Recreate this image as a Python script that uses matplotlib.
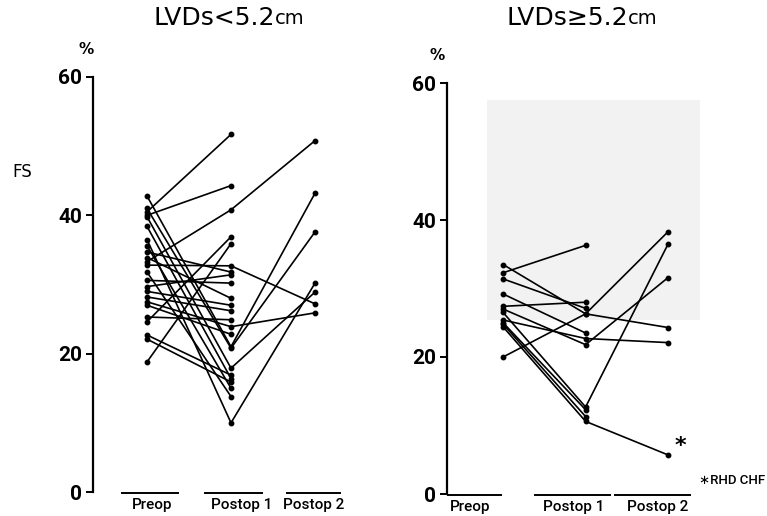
import numpy as np
import matplotlib
matplotlib.use("Agg")
import matplotlib.pyplot as plt
from matplotlib.patches import Rectangle
from matplotlib import font_manager

categories = ["Preop", "Postop 1", "Postop 2"]

# Left panel: LVDs < 5.2 cm  (preop, postop1, postop2) ; nan = no value
small_preop = [40.5, 40.0, 33.3, 18.8, 24.6, 42.8, 41.0, 39.8, 38.4, 35.6,
               36.5, 32.8, 30.6, 33.9, 29.7, 29.0, 28.2, 27.5, 27.0, 25.3,
               22.7, 22.1, 31.8, 34.7]
small_post1 = [51.7, 44.3, 40.8, 35.9, 36.9, 21.0, 20.8, 17.9, 16.4, 15.0,
               10.0, 32.7, 30.2, 28.0, 31.4, 27.0, 26.2, 23.9, 22.8, 24.9,
               16.9, 15.9, 13.8, 31.8]
small_post2 = [np.nan, np.nan, 50.8, np.nan, np.nan, 43.2, 37.6, 28.9, np.nan, np.nan,
               30.2, 27.2, np.nan, np.nan, np.nan, np.nan, np.nan, 25.9, np.nan, np.nan,
               np.nan, np.nan, np.nan, np.nan]

# Right panel: LVDs >= 5.2 cm
large_preop = [33.5, 32.3, 31.4, 29.2, 27.4, 27.0, 25.4, 20.0, 26.5, 25.0, 24.8, 24.4]
large_post1 = [26.3, 36.3, 27.1, 23.5, 28.0, 21.8, 22.7, 26.3, 12.7, 12.3, 11.3, 10.6]
large_post2 = [24.3, np.nan, np.nan, np.nan, np.nan, 31.6, 22.1, 38.3, 36.5, np.nan, np.nan, 5.7]

yticks = [0, 20, 40, 60]

avail = {f.name for f in font_manager.fontManager.ttflist}
tickfont = "Roboto" if "Roboto" in avail else "DejaVu Sans"

fig = plt.figure(figsize=(7.67, 5.16), dpi=100)
axL = fig.add_axes([93/767, 24/516, 252/767, 415/516])
axR = fig.add_axes([447/767, 22/516, 283/767, 411/516])

def draw(ax, pre, p1, p2, xlim, label_x, seg):
    ax.set_xlim(*xlim)
    ax.set_ylim(0, 60)
    for a, b, c in zip(pre, p1, p2):
        xs, ys = [], []
        for i, v in enumerate([a, b, c]):
            if not np.isnan(v):
                xs.append(i); ys.append(v)
        ax.plot(xs, ys, color="black", lw=1.2, marker="o", ms=3.2,
                solid_capstyle="round", zorder=3)
    for s in ["top", "right", "bottom"]:
        ax.spines[s].set_visible(False)
    ax.spines["left"].set_linewidth(1.6)
    ax.set_xticks([])
    ax.set_yticks(yticks)
    ax.set_yticklabels([str(t) for t in yticks], fontsize=15, fontweight="bold",
                       family=tickfont)
    ax.tick_params(axis="y", direction="out", length=5, width=1.4, pad=3)
    tr = ax.get_xaxis_transform()
    for (x0, x1), lx, name in zip(seg, label_x, categories):
        ax.plot([x0, x1], [-0.003, -0.003], transform=tr, color="black", lw=1.4,
                clip_on=False)
        ax.text(lx, -0.032, name, transform=tr, ha="center", va="center",
                fontsize=11, family=tickfont, fontweight="medium")

draw(axL, small_preop, small_post1, small_post2, (-0.643, 2.357),
     [0.06, 1.13, 1.98], [(-0.30, 0.37), (0.69, 1.37), (1.67, 2.30)])
draw(axR, large_preop, large_post1, large_post2, (-0.68, 2.75),
     [-0.40, 0.85, 1.87], [(-0.67, -0.03), (0.39, 1.30), (1.36, 2.27)])

# stippled background of the scan (right panel)
axR.add_patch(Rectangle((0.141, 0.423), 0.753, 0.536, transform=axR.transAxes,
                        facecolor="#f2f2f2", edgecolor="none", zorder=0))

# titles
fig.text(275/767, 1 - 18/516, "LVDs<5.2", fontsize=18, ha="right", va="center")
fig.text(275/767, 1 - 18/516, "cm", fontsize=14, ha="left", va="center")
fig.text(628/767, 1 - 18/516, "LVDs≥5.2", fontsize=18, ha="right", va="center")
fig.text(628/767, 1 - 18/516, "cm", fontsize=14, ha="left", va="center")

fig.text(86/767, 1 - 50/516, "%", fontsize=11, ha="center", va="center", fontweight="bold")
fig.text(437/767, 1 - 55/516, "%", fontsize=11, ha="center", va="center", fontweight="bold")
fig.text(22/767, 1 - 172/516, "FS", fontsize=12, ha="center", va="center")

axR.text(2.15, 7.0, "*", fontsize=16, ha="center", va="center", fontweight="bold")
fig.text(699/767, 1 - 480/516, "∗RHD CHF", fontsize=9.5, ha="left", va="center",
         family=[tickfont, "DejaVu Sans"], fontweight="medium")

fig.savefig("out.png", dpi=100)
